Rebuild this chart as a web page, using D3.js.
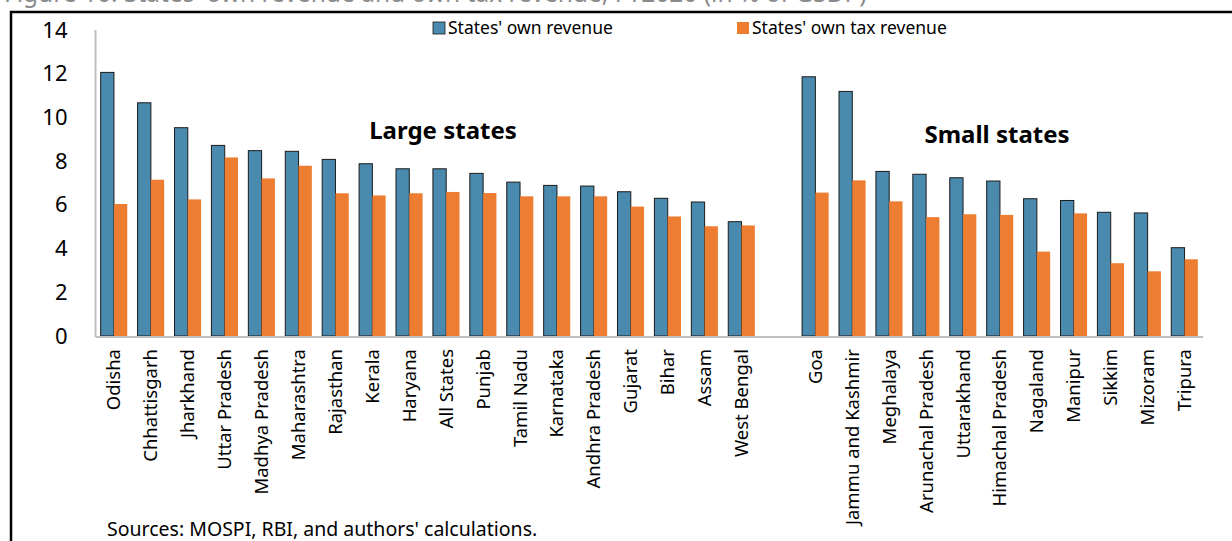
<!DOCTYPE html>
<html>
<head>
<meta charset="utf-8">
<script src="https://cdn.jsdelivr.net/npm/d3@7"></script>
<style>
  html, body { margin: 0; padding: 0; background: #fff; }
  svg { display: block; font-family: "Noto Sans", "Open Sans", sans-serif; }
</style>
</head>
<body>
<svg id="chart" width="1232" height="541"></svg>
<script>
// States' own revenue vs own tax revenue, FY2020, % of GSDP
const largeStates = ["Odisha", "Chhattisgarh", "Jharkhand", "Uttar Pradesh", "Madhya Pradesh",
  "Maharashtra", "Rajasthan", "Kerala", "Haryana", "All States", "Punjab", "Tamil Nadu",
  "Karnataka", "Andhra Pradesh", "Gujarat", "Bihar", "Assam", "West Bengal"];
const largeOwnRevenue = [12.06, 10.67, 9.53, 8.72, 8.48, 8.45, 8.08, 7.88, 7.65, 7.65, 7.44,
  7.04, 6.89, 6.86, 6.60, 6.30, 6.13, 5.23];
const largeOwnTax = [6.04, 7.15, 6.25, 8.17, 7.21, 7.79, 6.53, 6.43, 6.53, 6.59, 6.54,
  6.39, 6.39, 6.39, 5.92, 5.47, 5.02, 5.06];

const smallStates = ["Goa", "Jammu and Kashmir", "Meghalaya", "Arunachal Pradesh", "Uttarakhand",
  "Himachal Pradesh", "Nagaland", "Manipur", "Sikkim", "Mizoram", "Tripura"];
const smallOwnRevenue = [11.86, 11.19, 7.53, 7.40, 7.24, 7.09, 6.28, 6.20, 5.66, 5.63, 4.04];
const smallOwnTax = [6.56, 7.12, 6.16, 5.44, 5.57, 5.54, 3.86, 5.61, 3.33, 2.96, 3.51];

const yTicks = [0, 2, 4, 6, 8, 10, 12, 14];
const seriesNames = ["States' own revenue", "States' own tax revenue"];
const seriesColors = ["#4a8aae", "#ed7d31"];
const gapSlot = "";

const rows = [
  ...largeStates.map((s, i) => ({ state: s, own: largeOwnRevenue[i], tax: largeOwnTax[i] })),
  ...smallStates.map((s, i) => ({ state: s, own: smallOwnRevenue[i], tax: smallOwnTax[i] }))
];
const slots = [...largeStates, gapSlot, ...smallStates];

const svg = d3.select("#chart");

// title line running off the top edge
svg.append("text")
  .attr("x", 4).attr("y", 2)
  .attr("font-size", 24.5).attr("fill", "#8c8c8c")
  .text("Figure 10: States' own revenue and own tax revenue, FY2020 (in % of GSDP)");

// frame
svg.append("path")
  .attr("d", "M11,541 V12 H1232")
  .attr("fill", "none").attr("stroke", "#000").attr("stroke-width", 2.5);

const x = d3.scaleBand().domain(slots).range([95.5, 1203]).paddingInner(0.28).paddingOuter(0.14);
const xs = d3.scaleBand().domain(["own", "tax"]).range([0, x.bandwidth()]);
const y = d3.scaleLinear().domain([0, 14]).range([336, 30]);

// y axis: labels only, grey spine
svg.append("line")
  .attr("x1", 95.5).attr("x2", 95.5).attr("y1", y(14)).attr("y2", y(0) + 1)
  .attr("stroke", "#bfbfbf").attr("stroke-width", 2);
const yAxis = svg.append("g").attr("transform", "translate(95.5,0)")
  .call(d3.axisLeft(y).tickValues(yTicks).tickSize(0).tickPadding(28));
yAxis.select(".domain").remove();
yAxis.selectAll("text").attr("font-size", 22).attr("fill", "#000")
  .attr("font-family", "Noto Sans, sans-serif");

// bars
const g = svg.append("g");
g.selectAll("rect.own").data(rows).join("rect").attr("class", "own")
  .attr("x", d => x(d.state) + xs("own"))
  .attr("y", d => y(d.own))
  .attr("width", xs.bandwidth())
  .attr("height", d => y(0) - y(d.own))
  .attr("fill", seriesColors[0])
  .attr("stroke", "#1b1b1b").attr("stroke-width", 1);
g.selectAll("rect.tax").data(rows).join("rect").attr("class", "tax")
  .attr("x", d => x(d.state) + xs("tax"))
  .attr("y", d => y(d.tax))
  .attr("width", xs.bandwidth())
  .attr("height", d => y(0) - y(d.tax))
  .attr("fill", seriesColors[1]);

// x axis
svg.append("line")
  .attr("x1", 95.5).attr("x2", 1203).attr("y1", y(0) + 1).attr("y2", y(0) + 1)
  .attr("stroke", "#bfbfbf").attr("stroke-width", 2);
const xAxis = svg.append("g").attr("transform", `translate(0,${y(0)})`)
  .call(d3.axisBottom(x).tickSize(0));
xAxis.select(".domain").remove();
xAxis.selectAll("text")
  .attr("font-size", 18.5).attr("fill", "#000")
  .attr("font-family", "Noto Sans, sans-serif")
  .attr("transform", "rotate(-90)")
  .attr("text-anchor", "end")
  .attr("dy", "0.35em")
  .attr("x", -13).attr("y", 0);

// group headings
svg.append("text").attr("x", 443).attr("y", 139)
  .attr("text-anchor", "middle").attr("font-size", 24).attr("font-weight", "bold")
  .text("Large states");
svg.append("text").attr("x", 997).attr("y", 143)
  .attr("text-anchor", "middle").attr("font-size", 24).attr("font-weight", "bold")
  .text("Small states");

// legend
const legendX = [433, 737];
seriesNames.forEach((name, i) => {
  const lg = svg.append("g").attr("transform", `translate(${legendX[i]},22)`);
  lg.append("rect").attr("width", 12).attr("height", 12)
    .attr("fill", seriesColors[i])
    .attr("stroke", i === 0 ? "#1b1b1b" : "none").attr("stroke-width", 0.8);
  lg.append("text").attr("x", 15).attr("y", 6).attr("dy", "0.35em")
    .attr("font-size", 17.5).text(name);
});

// source note
svg.append("text").attr("x", 107).attr("y", 536)
  .attr("font-size", 19.5).text("Sources: MOSPI, RBI, and authors' calculations.");
</script>
</body>
</html>
